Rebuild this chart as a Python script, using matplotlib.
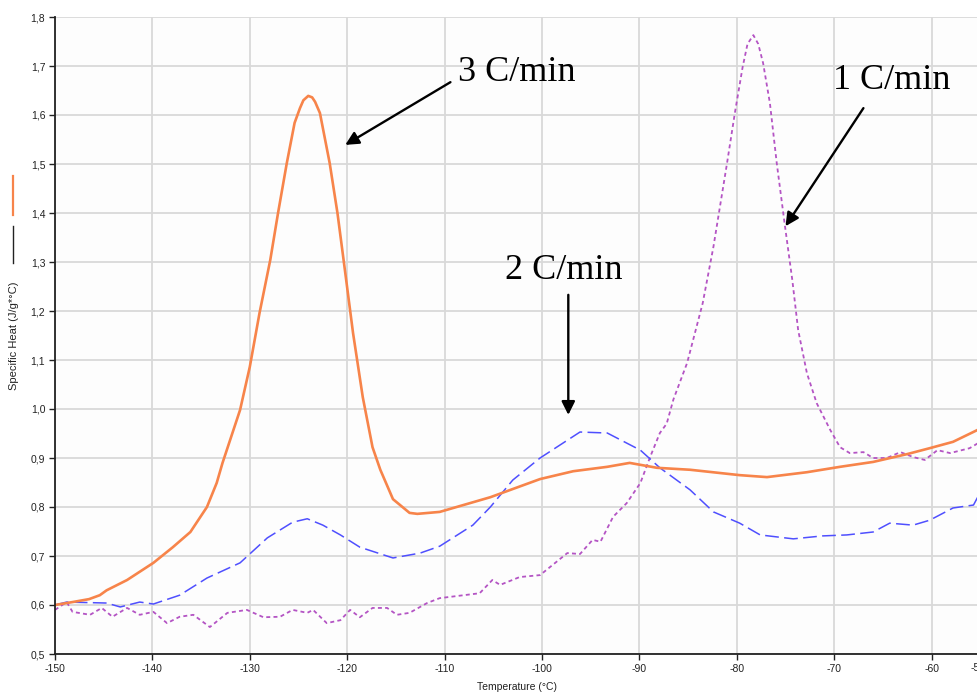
import matplotlib
matplotlib.use("Agg")
import numpy as np
import matplotlib.pyplot as plt
from matplotlib.lines import Line2D

plt.rcParams['font.family'] = ['Liberation Sans', 'DejaVu Sans']

# 3 C/min  (solid orange)
t_3 = [-150.0, -148.2, -146.5, -145.4, -144.7, -142.6, -139.9, -137.9, -136.1, -134.4,
       -133.4, -132.8, -131.0, -130.0, -129.0, -127.9, -127.1, -126.2, -125.4, -124.85,
       -124.5, -124.0, -123.6, -123.3, -122.8, -121.8, -121.0, -120.2, -119.4, -118.4,
       -117.4, -116.6, -115.3, -113.6, -112.8, -110.5, -105.3, -100.2, -96.8, -93.3,
       -91.0, -88.2, -84.8, -79.7, -76.9, -72.8, -69.4, -66.0, -62.5, -60.2,
       -57.8, -55.0]
cp_3 = [0.600, 0.606, 0.612, 0.620, 0.630, 0.651, 0.686, 0.718, 0.749, 0.800,
        0.849, 0.890, 0.998, 1.086, 1.196, 1.304, 1.400, 1.502, 1.584, 1.614,
        1.630, 1.639, 1.636, 1.627, 1.604, 1.502, 1.400, 1.278, 1.155, 1.024,
        0.922, 0.876, 0.816, 0.788, 0.786, 0.790, 0.820, 0.857, 0.873, 0.882,
        0.890, 0.880, 0.876, 0.865, 0.861, 0.871, 0.882, 0.892, 0.908, 0.920,
        0.933, 0.960]

# 2 C/min  (dashed blue)
t_2 = [-150.0, -148.8, -144.7, -143.3, -141.3, -139.9, -137.2, -134.4, -131.0, -128.2,
       -125.6, -124.1, -122.5, -120.7, -118.7, -115.3, -112.5, -110.5, -107.1, -105.3,
       -103.0, -100.2, -98.5, -96.1, -93.3, -89.9, -87.9, -84.8, -82.4, -79.7,
       -77.6, -74.2, -71.2, -68.7, -66.0, -64.3, -61.9, -60.2, -57.8, -55.7, -55.0]
cp_2 = [0.600, 0.606, 0.604, 0.596, 0.606, 0.602, 0.620, 0.655, 0.686, 0.737,
        0.769, 0.776, 0.763, 0.743, 0.718, 0.696, 0.706, 0.720, 0.763, 0.800,
        0.855, 0.900, 0.922, 0.953, 0.951, 0.916, 0.880, 0.835, 0.790, 0.767,
        0.743, 0.735, 0.741, 0.743, 0.749, 0.767, 0.763, 0.773, 0.798, 0.804, 0.830]

# 1 C/min  (dotted purple)
t_1 = [-150.0, -148.8, -148.2, -146.4, -145.2, -144.1, -142.6, -141.3, -139.9, -138.5,
       -137.2, -135.8, -134.1, -132.3, -130.3, -128.6, -126.9, -125.6, -124.1, -123.5,
       -122.1, -120.7, -119.7, -118.7, -117.4, -115.9, -114.9, -113.6, -111.8, -110.5,
       -106.4, -105.1, -104.3, -102.3, -100.2, -97.4, -96.1, -94.8, -94.0, -92.7,
       -91.3, -89.9, -88.9, -87.9, -87.2, -86.5, -85.1, -83.5, -82.4, -81.0,
       -80.2, -79.4, -78.9, -78.3, -77.8, -77.3, -76.6, -75.9, -75.1, -74.3,
       -73.7, -72.8, -71.8, -70.4, -69.4, -68.4, -67.0, -66.0, -64.6, -63.2,
       -61.9, -60.7, -59.4, -58.1, -56.1, -55.0]
cp_1 = [0.590, 0.606, 0.586, 0.580, 0.594, 0.576, 0.594, 0.580, 0.586, 0.563,
        0.576, 0.580, 0.555, 0.584, 0.590, 0.575, 0.576, 0.590, 0.584, 0.590,
        0.563, 0.569, 0.590, 0.575, 0.594, 0.594, 0.580, 0.584, 0.604, 0.614,
        0.624, 0.651, 0.641, 0.657, 0.661, 0.706, 0.704, 0.733, 0.729, 0.780,
        0.808, 0.849, 0.902, 0.951, 0.970, 1.020, 1.094, 1.216, 1.331, 1.502,
        1.604, 1.698, 1.745, 1.763, 1.745, 1.706, 1.624, 1.502, 1.380, 1.263,
        1.161, 1.073, 1.012, 0.957, 0.922, 0.910, 0.912, 0.900, 0.900, 0.912,
        0.902, 0.896, 0.916, 0.910, 0.920, 0.933]

x_ticks = [-150, -140, -130, -120, -110, -100, -90, -80, -70, -60, -50]
y_ticks = [0.5, 0.6, 0.7, 0.8, 0.9, 1.0, 1.1, 1.2, 1.3, 1.4, 1.5, 1.6, 1.7, 1.8]

W, H = 978, 693
fig = plt.figure(figsize=(W / 100, H / 100), dpi=100)
fig.patch.set_facecolor('white')

# plot area: -150 at px 55, -50 at px ~1029 (cut off by the picture edge)
ax = fig.add_axes([55 / W, (H - 654) / H, 974 / W, 637 / H])
ax.set_facecolor('#fdfdfd')
ax.set_xlim(-150, -50)
ax.set_ylim(0.5, 1.8)

ax.set_xticks(x_ticks)
ax.set_xticklabels([str(v) for v in x_ticks])
ax.set_yticks(y_ticks)
ax.set_yticklabels([('%.1f' % v).replace('.', ',') for v in y_ticks])
ax.tick_params(axis='both', labelsize=7.5, colors='#222222', length=4, width=1, pad=3)
ax.grid(True, color='#d9d9d9', lw=1.3)
ax.set_axisbelow(True)
for s in ['top', 'right']:
    ax.spines[s].set_visible(False)
for s in ['left', 'bottom']:
    ax.spines[s].set_color('#222222')
    ax.spines[s].set_linewidth(1.3)

ax.plot(t_1, cp_1, color='#b454c4', lw=1.3, dashes=(2.2, 1.8))
ax.plot(t_2, cp_2, color='#4f4fff', lw=1.1, dashes=(9, 3.5))
ax.plot(t_3, cp_3, color='#f7844a', lw=1.9, solid_joinstyle='round')

# annotations
serif = ['Liberation Serif', 'DejaVu Serif']
arrow = dict(arrowstyle='-|>', color='black', lw=1.7, mutation_scale=20, shrinkA=0, shrinkB=0)
ax.text(-108.6, 1.669, '3 C/min', family=serif, fontsize=26, ha='left', va='baseline')
ax.annotate('', xy=(-120.2, 1.539), xytext=(-109.4, 1.667), arrowprops=arrow)
ax.text(-103.8, 1.265, '2 C/min', family=serif, fontsize=26, ha='left', va='baseline')
ax.annotate('', xy=(-97.3, 0.988), xytext=(-97.3, 1.233), arrowprops=arrow)
ax.text(-70.1, 1.653, '1 C/min', family=serif, fontsize=26, ha='left', va='baseline')
ax.annotate('', xy=(-75.0, 1.373), xytext=(-67.0, 1.614), arrowprops=arrow)

# axis titles
fig.text(517 / W, 1 - 687 / H, 'Temperature (°C)', fontsize=7.5, color='#222222',
         ha='center', va='center')
fig.text(14 / W, 1 - 336 / H, 'Specific Heat (J/g*°C)', fontsize=8, color='#222222',
         rotation=90, ha='center', va='center')
# last tick label, partly outside the picture as in the original screenshot
fig.text(971 / W, 1 - 668 / H, '-50', fontsize=7.5, color='#222222', ha='left', va='center')

# small legend strokes beside the y title
fig.add_artist(Line2D([13 / W, 13 / W], [1 - 176 / H, 1 - 215 / H], color='#f7844a', lw=1.6))
fig.add_artist(Line2D([13 / W, 13 / W], [1 - 226 / H, 1 - 263 / H], color='#222222', lw=1.0))

fig.savefig('out.png', dpi=100)
